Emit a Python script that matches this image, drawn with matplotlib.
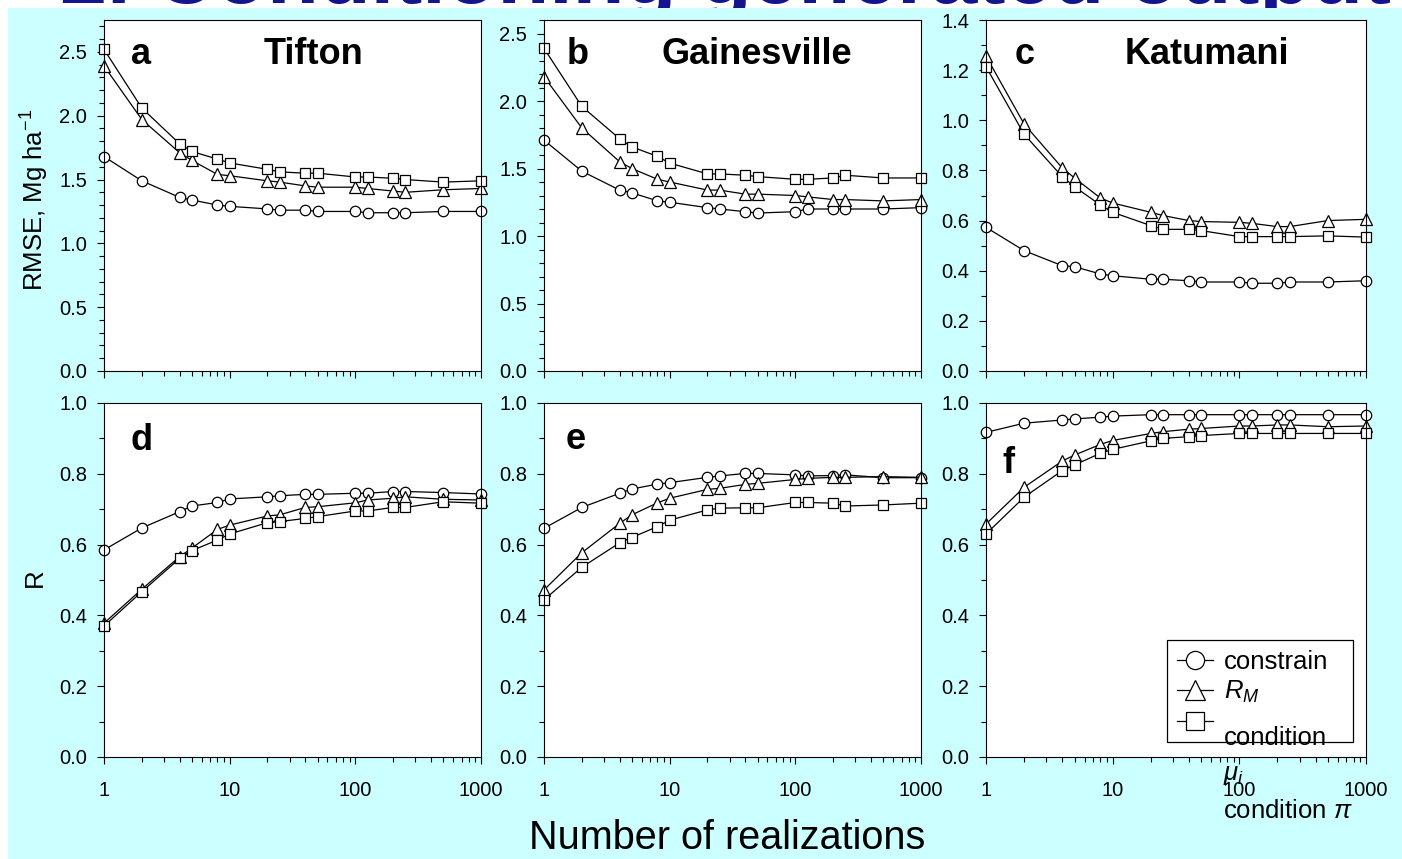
import matplotlib
matplotlib.use("Agg")
import matplotlib.pyplot as plt
from matplotlib.patches import Rectangle
from matplotlib.transforms import Bbox, TransformedBbox
from matplotlib.ticker import MultipleLocator, FormatStrFormatter, NullFormatter, LogLocator

plt.rcParams['font.family'] = ['Liberation Sans', 'DejaVu Sans']
plt.rcParams['mathtext.fontset'] = 'custom'
plt.rcParams['mathtext.rm'] = 'Liberation Sans'
plt.rcParams['mathtext.it'] = 'Liberation Sans:italic'

# number of realizations (x) shared by all panels
n_real = [1, 2, 4, 5, 8, 10, 20, 25, 40, 50, 100, 125, 200, 250, 500, 1000]

# RMSE, Mg/ha
rmse_tif_constrain = [1.68, 1.49, 1.36, 1.34, 1.30, 1.29, 1.27, 1.26, 1.26, 1.25, 1.25, 1.24, 1.24, 1.24, 1.25, 1.25]
rmse_tif_rm = [2.39, 1.97, 1.71, 1.65, 1.54, 1.53, 1.49, 1.48, 1.45, 1.44, 1.44, 1.43, 1.41, 1.40, 1.42, 1.43]
rmse_tif_condition = [2.52, 2.06, 1.78, 1.72, 1.66, 1.63, 1.58, 1.56, 1.55, 1.55, 1.52, 1.52, 1.51, 1.50, 1.48, 1.49]

rmse_gai_constrain = [1.71, 1.48, 1.34, 1.32, 1.26, 1.25, 1.21, 1.20, 1.18, 1.17, 1.18, 1.20, 1.20, 1.20, 1.20, 1.21]
rmse_gai_rm = [2.18, 1.80, 1.55, 1.50, 1.42, 1.40, 1.34, 1.34, 1.31, 1.31, 1.30, 1.29, 1.27, 1.27, 1.26, 1.27]
rmse_gai_condition = [2.39, 1.96, 1.72, 1.66, 1.59, 1.54, 1.46, 1.46, 1.45, 1.44, 1.42, 1.42, 1.43, 1.45, 1.43, 1.43]

rmse_kat_constrain = [0.573, 0.48, 0.42, 0.416, 0.387, 0.38, 0.366, 0.366, 0.36, 0.355, 0.355, 0.35, 0.35, 0.355, 0.355, 0.36]
rmse_kat_rm = [1.256, 0.985, 0.81, 0.77, 0.69, 0.67, 0.633, 0.62, 0.60, 0.596, 0.593, 0.589, 0.576, 0.576, 0.60, 0.605]
rmse_kat_condition = [1.214, 0.944, 0.775, 0.735, 0.662, 0.633, 0.58, 0.565, 0.565, 0.56, 0.536, 0.536, 0.536, 0.536, 0.539, 0.534]

# correlation R
r_tif_constrain = [0.585, 0.647, 0.693, 0.709, 0.719, 0.729, 0.735, 0.738, 0.742, 0.742, 0.745, 0.745, 0.750, 0.750, 0.747, 0.743]
r_tif_rm = [0.378, 0.474, 0.566, 0.590, 0.643, 0.655, 0.681, 0.684, 0.705, 0.707, 0.718, 0.726, 0.731, 0.735, 0.728, 0.726]
r_tif_condition = [0.370, 0.467, 0.561, 0.583, 0.613, 0.630, 0.662, 0.665, 0.674, 0.679, 0.695, 0.695, 0.705, 0.705, 0.721, 0.717]

r_gai_constrain = [0.646, 0.705, 0.745, 0.757, 0.771, 0.775, 0.790, 0.794, 0.801, 0.801, 0.797, 0.794, 0.795, 0.797, 0.789, 0.789]
r_gai_rm = [0.472, 0.577, 0.660, 0.684, 0.718, 0.731, 0.756, 0.759, 0.770, 0.773, 0.784, 0.787, 0.790, 0.790, 0.792, 0.790]
r_gai_condition = [0.444, 0.536, 0.605, 0.620, 0.651, 0.669, 0.698, 0.703, 0.704, 0.704, 0.719, 0.719, 0.717, 0.709, 0.712, 0.717]

r_kat_constrain = [0.917, 0.943, 0.952, 0.955, 0.960, 0.963, 0.967, 0.967, 0.967, 0.967, 0.967, 0.967, 0.967, 0.967, 0.967, 0.967]
r_kat_rm = [0.658, 0.762, 0.836, 0.853, 0.883, 0.894, 0.914, 0.919, 0.926, 0.928, 0.935, 0.935, 0.938, 0.938, 0.933, 0.935]
r_kat_condition = [0.630, 0.734, 0.809, 0.825, 0.858, 0.869, 0.893, 0.900, 0.905, 0.908, 0.914, 0.914, 0.914, 0.914, 0.914, 0.914]

sites = ['Tifton', 'Gainesville', 'Katumani']
letters_top = ['a', 'b', 'c']
letters_bot = ['d', 'e', 'f']
series_labels = ['constrain', '$R_M$', 'condition']

W, H = 1402, 859
fig = plt.figure(figsize=(W / 100, H / 100), dpi=100)
fig.patch.set_facecolor('white')
# slide title sits behind the cyan panel, only its lower edge shows in the strip
title = fig.text(60 / W, 1 - 3 / H, '2. Conditioning generated output', fontsize=61,
                 fontweight='bold', color='#14148C', ha='left', va='baseline', zorder=-20)
title.set_clip_box(TransformedBbox(Bbox([[0, 1 - 8 / H], [1, 1]]), fig.transFigure))
title.set_clip_on(True)
fig.add_artist(Rectangle((8 / W, 0), 1 - 8 / W, 1 - 8 / H, transform=fig.transFigure,
                         facecolor='#CCFFFF', edgecolor='none', zorder=-10))

lefts = [104 / W, 544 / W, 986 / W]
widths = [377 / W, 377 / W, 380 / W]
top_b, top_h = (H - 371) / H, 351 / H
bot_b, bot_h = (H - 757) / H, 354 / H

rmse_data = [
    (rmse_tif_constrain, rmse_tif_rm, rmse_tif_condition),
    (rmse_gai_constrain, rmse_gai_rm, rmse_gai_condition),
    (rmse_kat_constrain, rmse_kat_rm, rmse_kat_condition),
]
r_data = [
    (r_tif_constrain, r_tif_rm, r_tif_condition),
    (r_gai_constrain, r_gai_rm, r_gai_condition),
    (r_kat_constrain, r_kat_rm, r_kat_condition),
]
rmse_ylim = [2.75, 2.6, 1.4]
rmse_major = [0.5, 0.5, 0.2]
markers = [('o', 7.5), ('^', 8.5), ('s', 7.5)]


def style_axis(ax, ymax, major, show_xlabels):
    ax.set_xscale('log')
    ax.set_xlim(1, 1000)
    ax.set_ylim(0, ymax)
    ax.yaxis.set_major_locator(MultipleLocator(major))
    ax.yaxis.set_minor_locator(MultipleLocator(0.1))
    ax.yaxis.set_major_formatter(FormatStrFormatter('%.1f'))
    ax.xaxis.set_major_locator(LogLocator(base=10, numticks=10))
    ax.xaxis.set_minor_locator(LogLocator(base=10, subs=range(2, 10), numticks=10))
    ax.xaxis.set_minor_formatter(NullFormatter())
    ax.set_xticks([1, 10, 100, 1000], ['1', '10', '100', '1000'])
    ax.tick_params(which='both', direction='out', colors='black', width=0.8)
    ax.tick_params(which='major', length=5, labelsize=14.5)
    ax.tick_params(which='minor', length=3.5)
    ax.tick_params(axis='y', which='major', pad=7)
    ax.tick_params(axis='x', which='major', pad=12, labelbottom=show_xlabels)
    for sp in ax.spines.values():
        sp.set_linewidth(0.8)
    ax.set_facecolor('white')


def draw_series(ax, triple):
    lines = []
    for vals, (mk, ms) in zip(triple, markers):
        ln, = ax.plot(n_real, vals, marker=mk, ms=ms, mfc='white', mec='black',
                      mew=0.9, color='black', lw=0.9, clip_on=False)
        lines.append(ln)
    return lines


for i in range(3):
    ax = fig.add_axes([lefts[i], top_b, widths[i], top_h])
    draw_series(ax, rmse_data[i])
    style_axis(ax, rmse_ylim[i], rmse_major[i], False)
    lx = [0.072, 0.061, 0.076][i]
    sx = [0.557, 0.565, 0.58][i]
    ax.text(lx, 0.875, letters_top[i], transform=ax.transAxes, fontsize=26,
            fontweight='bold', ha='left', va='baseline')
    ax.text(sx, 0.875, sites[i], transform=ax.transAxes, fontsize=26,
            fontweight='bold', ha='center', va='baseline')

for i in range(3):
    ax = fig.add_axes([lefts[i], bot_b, widths[i], bot_h])
    lines = draw_series(ax, r_data[i])
    style_axis(ax, 1.0, 0.2, True)
    lx = [0.069, 0.058, 0.043][i]
    ly = [0.867, 0.869, 0.803][i]
    ax.text(lx, ly, letters_bot[i], transform=ax.transAxes, fontsize=26,
            fontweight='bold', ha='left', va='baseline')
    if i == 2:
        leg = ax.legend(lines, series_labels, loc='upper left',
                        bbox_to_anchor=(0.49, 0.318), frameon=False, fontsize=18.5,
                        markerscale=1.75, handlelength=1.4, handletextpad=0.4,
                        labelspacing=0.22, borderpad=0.2, borderaxespad=0)
        # last label hangs below its symbol
        leg.get_texts()[2].set_y(-15)
        ax.add_patch(Rectangle((0.476, 0.042), 0.489, 0.288, transform=ax.transAxes,
                               fill=False, edgecolor='black', lw=0.9, zorder=6))
        ax.text(0.624, -0.051, r'$\mu_i$', transform=ax.transAxes, fontsize=18.5,
                ha='left', va='center')
        ax.text(0.624, -0.153, r'condition $\pi$', transform=ax.transAxes,
                fontsize=18.5, ha='left', va='center')

fig.text(35 / W, 1 - 200 / H, 'RMSE, Mg ha$^{-1}$', rotation=90, fontsize=18.5,
         ha='center', va='center')
fig.text(35 / W, 1 - 578 / H, 'R', rotation=90, fontsize=18.5, ha='center', va='center')
fig.text(727 / W, 1 - 838 / H, 'Number of realizations', fontsize=28.5,
         ha='center', va='center')

fig.savefig('out.png', dpi=100, facecolor=fig.get_facecolor())
